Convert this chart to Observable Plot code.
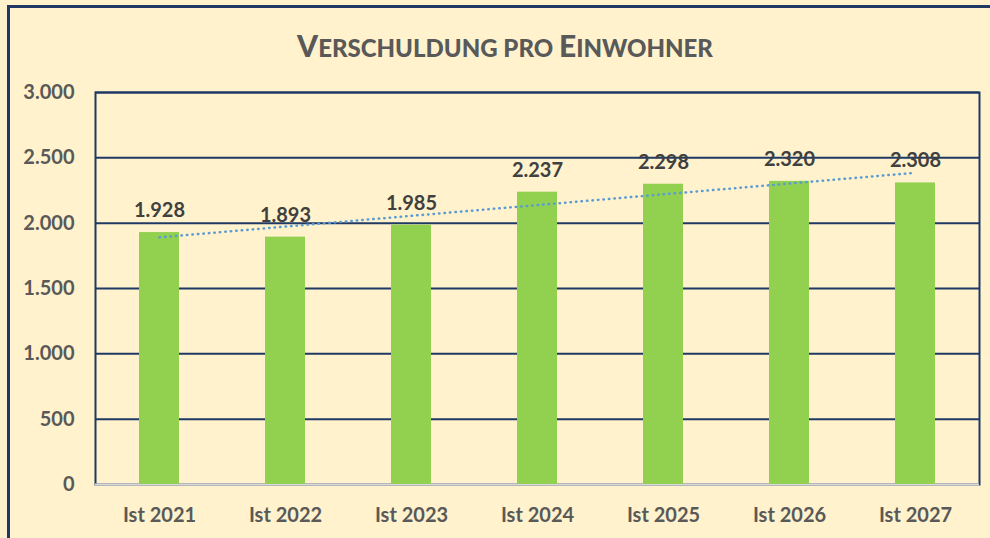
<!DOCTYPE html>
<html>
<head>
<meta charset="utf-8">
<script src="https://cdn.jsdelivr.net/npm/d3@7"></script>
<script src="https://cdn.jsdelivr.net/npm/@observablehq/plot@0.6"></script>
<style>
  html, body { margin: 0; padding: 0; background: #FFF2CC; }
  #wrap { position: relative; width: 990px; height: 538px; overflow: hidden; background: #FFF2CC; }
  #border { position: absolute; left: 7px; top: 5px; width: 1000px; height: 600px; border: 3px solid #1F3864; box-sizing: border-box; }
  #title { position: absolute; left: 20px; top: 0; width: 970px; height: 72px; text-align: center;
           font-family: Lato, "Open Sans", sans-serif; font-weight: 900; color: #595959; line-height: 90px; }
  #title .big { font-size: 30px; }
  #title .small { font-size: 24px; text-transform: uppercase; }
  #chart { position: absolute; left: 0; top: 72px; }
</style>
</head>
<body>
<div id="wrap">
  <div id="border"></div>
  <div id="title"><span class="big">V</span><span class="small">erschuldung pro </span><span class="big">E</span><span class="small">inwohner</span></div>
  <div id="chart"></div>
</div>
<script>
const years = ["Ist 2021", "Ist 2022", "Ist 2023", "Ist 2024", "Ist 2025", "Ist 2026", "Ist 2027"];
const values = [1928, 1893, 1985, 2237, 2298, 2320, 2308];
const yTicks = [0, 500, 1000, 1500, 2000, 2500, 3000];

const data = years.map((year, i) => ({year, value: values[i]}));

// linear trend (least squares) computed from the values
const n = values.length;
const mx = d3.mean(d3.range(n));
const my = d3.mean(values);
const slope = d3.sum(d3.range(n), i => (i - mx) * (values[i] - my)) / d3.sum(d3.range(n), i => (i - mx) ** 2);
const intercept = my - slope * mx;
const trend = years.map((year, i) => ({year, value: intercept + slope * i}));

const fmt = d => d.toLocaleString("de-DE");

const chart = Plot.plot({
  width: 990,
  height: 466,
  marginTop: 20,
  marginBottom: 54,
  marginLeft: 95,
  marginRight: 11,
  style: {background: "transparent", fontFamily: "Lato, 'Open Sans', sans-serif", fontWeight: "bold", fontSize: "20px", color: "#595959", overflow: "visible"},
  x: {domain: years, paddingInner: 0.68, paddingOuter: 0.34, label: null, tickSize: 0, tickPadding: 23},
  y: {domain: [0, 3000], ticks: yTicks, tickFormat: fmt, label: null, tickSize: 0, tickPadding: 21},
  marks: [
    Plot.gridY(yTicks.filter(d => d > 0), {stroke: "#1F3864", strokeOpacity: 1, strokeWidth: 2}),
    Plot.frame({stroke: "#1F3864", strokeWidth: 2}),
    Plot.ruleY([0], {stroke: "#D9D9D9", strokeWidth: 2}),
    Plot.barY(data, {x: "year", y: "value", fill: "#92D050"}),
    Plot.line(trend, {x: "year", y: "value", stroke: "#5B9BD5", strokeWidth: 2.5, strokeDasharray: "0.5 5", strokeLinecap: "round"}),
    Plot.text(data, {x: "year", y: "value", text: d => fmt(d.value), dy: -22, fill: "#404040", fontSize: 20, fontWeight: "bold"})
  ]
});
document.getElementById("chart").appendChild(chart);
</script>
</body>
</html>
